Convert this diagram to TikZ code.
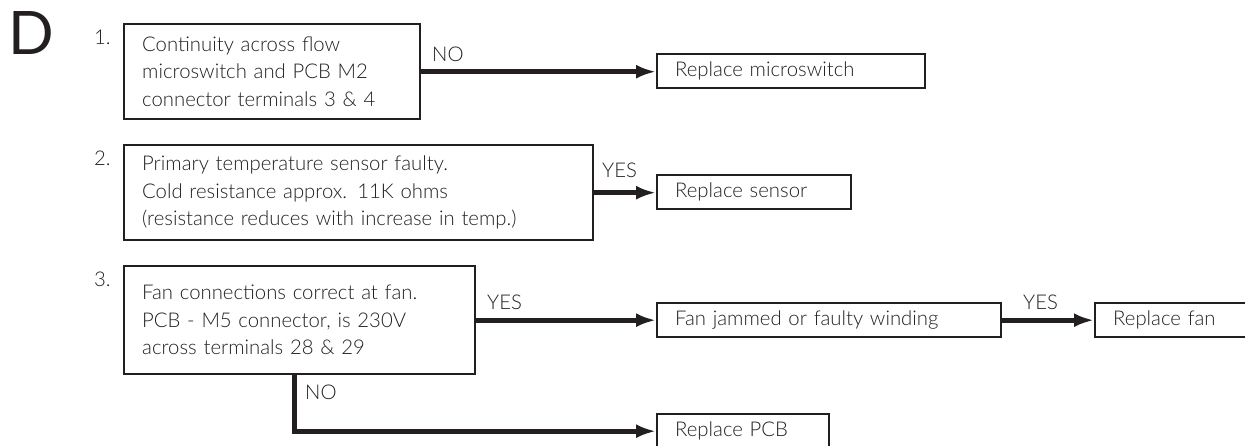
\documentclass[tikz,border=0pt]{standalone}
\usepackage{fontspec}
\IfFontExistsTF{Lato Light}{\setmainfont{Lato Light}}{\setmainfont{Lato}}
\newfontfamily\dfont{Lato}
\usetikzlibrary{arrows.meta}
\definecolor{ink}{HTML}{231F20}
\begin{document}
\begin{tikzpicture}[x=1pt,y=-1pt,
  txt/.style={font=\fontsize{20.3}{27.5}\selectfont, text=ink, inner sep=0pt},
  box/.style={txt, draw=ink, line width=2.4pt, fill=white, anchor=north west,
    inner xsep=18pt, inner ysep=0pt, align=left},
  lbl/.style={txt, anchor=base west},
  arr/.style={draw=ink, line width=5pt, -{Latex[length=20pt,width=14pt]}},
  ]
\useasboundingbox (0,0) rectangle (1245,446);

\node[anchor=base west, inner sep=0pt, text=ink, font=\dfont\fontsize{60}{60}\selectfont] (D) at (8,55) {D};

\node[lbl] (n1) at (94,45) {1.};
\node[lbl] (n2) at (94,166) {2.};
\node[lbl] (n3) at (94,287) {3.};

\node[box, minimum width=296pt, minimum height=95pt, text width=260pt] (b1) at (123,23)
  {Continuity across flow\\microswitch and PCB M2\\connector terminals 3 \& 4};
\node[box, minimum width=469pt, minimum height=95pt, text width=433pt] (b2) at (123,144)
  {Primary temperature sensor faulty.\\Cold resistance approx. 11K ohms\\(resistance reduces with increase in temp.)};
\node[box, minimum width=351pt, minimum height=108pt, text width=315pt] (b3) at (123,265)
  {Fan connections correct at fan.\\PCB - M5 connector, is 230V\\across terminals 28 \& 29};

\node[box, minimum width=268pt, minimum height=34pt, text width=232pt] (r1) at (656,53) {Replace microswitch};
\node[box, minimum width=194pt, minimum height=34pt, text width=158pt] (r2) at (656,174) {Replace sensor};
\node[box, minimum width=344pt, minimum height=34pt, text width=308pt] (f) at (656,302) {Fan jammed or faulty winding};
\node[box, minimum width=200pt, minimum height=34pt, text width=164pt] (rf) at (1094,302) {Replace fan};
\node[box, minimum width=172pt, minimum height=34pt, text width=136pt] (rp) at (656,413) {Replace PCB};

\node[lbl] (no1) at (432,62) {NO};
\node[lbl] (yes2) at (602,178) {YES};
\node[lbl] (yes3) at (487,309) {YES};
\node[lbl] (yes4) at (1023,309) {YES};
\node[lbl] (no3) at (305,399) {NO};

\draw[arr] (b1.east) -- (b1.east -| r1.west);
\draw[arr] (b2.east) -- (b2.east -| r2.west);
\draw[arr] (b3.east) -- (b3.east -| f.west);
\draw[arr] (f.east) -- (f.east -| rf.west);
\coordinate (c3) at ([xshift=171pt]b3.south west);
\draw[arr] (c3) |- (rp.west);
\end{tikzpicture}
\end{document}
